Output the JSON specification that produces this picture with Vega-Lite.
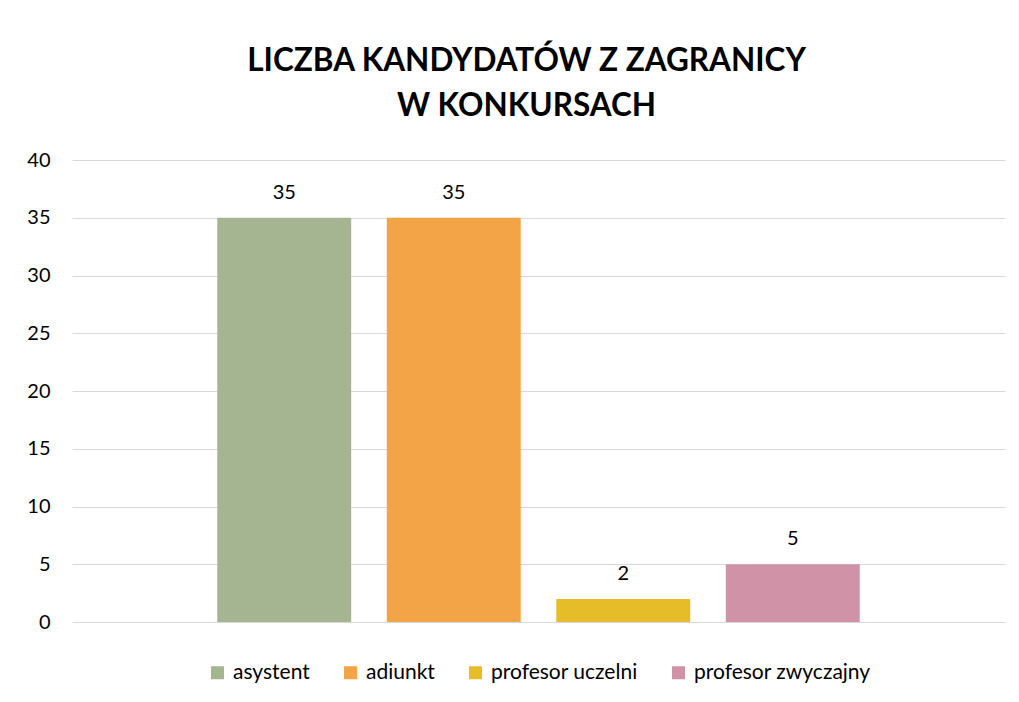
{
  "$schema": "https://vega.github.io/schema/vega-lite/v6.json",
  "width": 933,
  "height": 462,
  "autosize": {"type": "none"},
  "padding": {"left": 72, "top": 160, "right": 14, "bottom": 80},
  "background": "white",
  "config": {
    "view": {"stroke": null},
    "font": "Lato",
    "legend": {"layout": {"bottom": {"anchor": "middle"}}}
  },
  "title": {
    "text": ["LICZBA KANDYDATÓW Z ZAGRANICY", "W KONKURSACH"],
    "font": "Lato",
    "fontSize": 31.5,
    "fontWeight": "bold",
    "color": "#000000",
    "lineHeight": 45,
    "anchor": "middle",
    "frame": "group",
    "dx": -12,
    "offset": 28
  },
  "data": {
    "values": [
      {"stanowisko": "asystent", "liczba": 35},
      {"stanowisko": "adiunkt", "liczba": 35},
      {"stanowisko": "profesor uczelni", "liczba": 2},
      {"stanowisko": "profesor zwyczajny", "liczba": 5}
    ]
  },
  "encoding": {
    "x": {
      "field": "stanowisko",
      "type": "nominal",
      "sort": null,
      "axis": null,
      "scale": {"paddingInner": 0.21, "paddingOuter": 0.857}
    },
    "y": {
      "field": "liczba",
      "type": "quantitative",
      "scale": {"domain": [0, 40], "nice": false},
      "axis": {
        "title": null,
        "values": [0, 5, 10, 15, 20, 25, 30, 35, 40],
        "domain": false,
        "ticks": false,
        "labelPadding": 22,
        "labelFont": "Lato",
        "labelFontSize": 20,
        "labelColor": "#000000",
        "gridColor": "#d9d9d9",
        "gridWidth": 1.2
      }
    }
  },
  "layer": [
    {
      "mark": {"type": "bar"},
      "encoding": {
        "color": {
          "field": "stanowisko",
          "type": "nominal",
          "sort": null,
          "scale": {
            "domain": ["asystent", "adiunkt", "profesor uczelni", "profesor zwyczajny"],
            "range": ["#A5B592", "#F3A447", "#E7BC29", "#D092A7"]
          },
          "legend": {
            "title": null,
            "orient": "bottom",
            "direction": "horizontal",
            "offset": 40,
            "symbolType": "square",
            "symbolSize": 169,
            "symbolStrokeWidth": 0,
            "labelFont": "Lato",
            "labelFontSize": 21,
            "labelColor": "#000000",
            "labelOffset": 5,
            "columnPadding": 30,
            "labelLimit": 400
          }
        }
      }
    },
    {
      "mark": {
        "type": "text",
        "font": "Lato",
        "fontSize": 20,
        "color": "#000000",
        "baseline": "alphabetic",
        "dy": -19
      },
      "encoding": {
        "text": {"field": "liczba", "type": "quantitative"}
      }
    }
  ]
}
